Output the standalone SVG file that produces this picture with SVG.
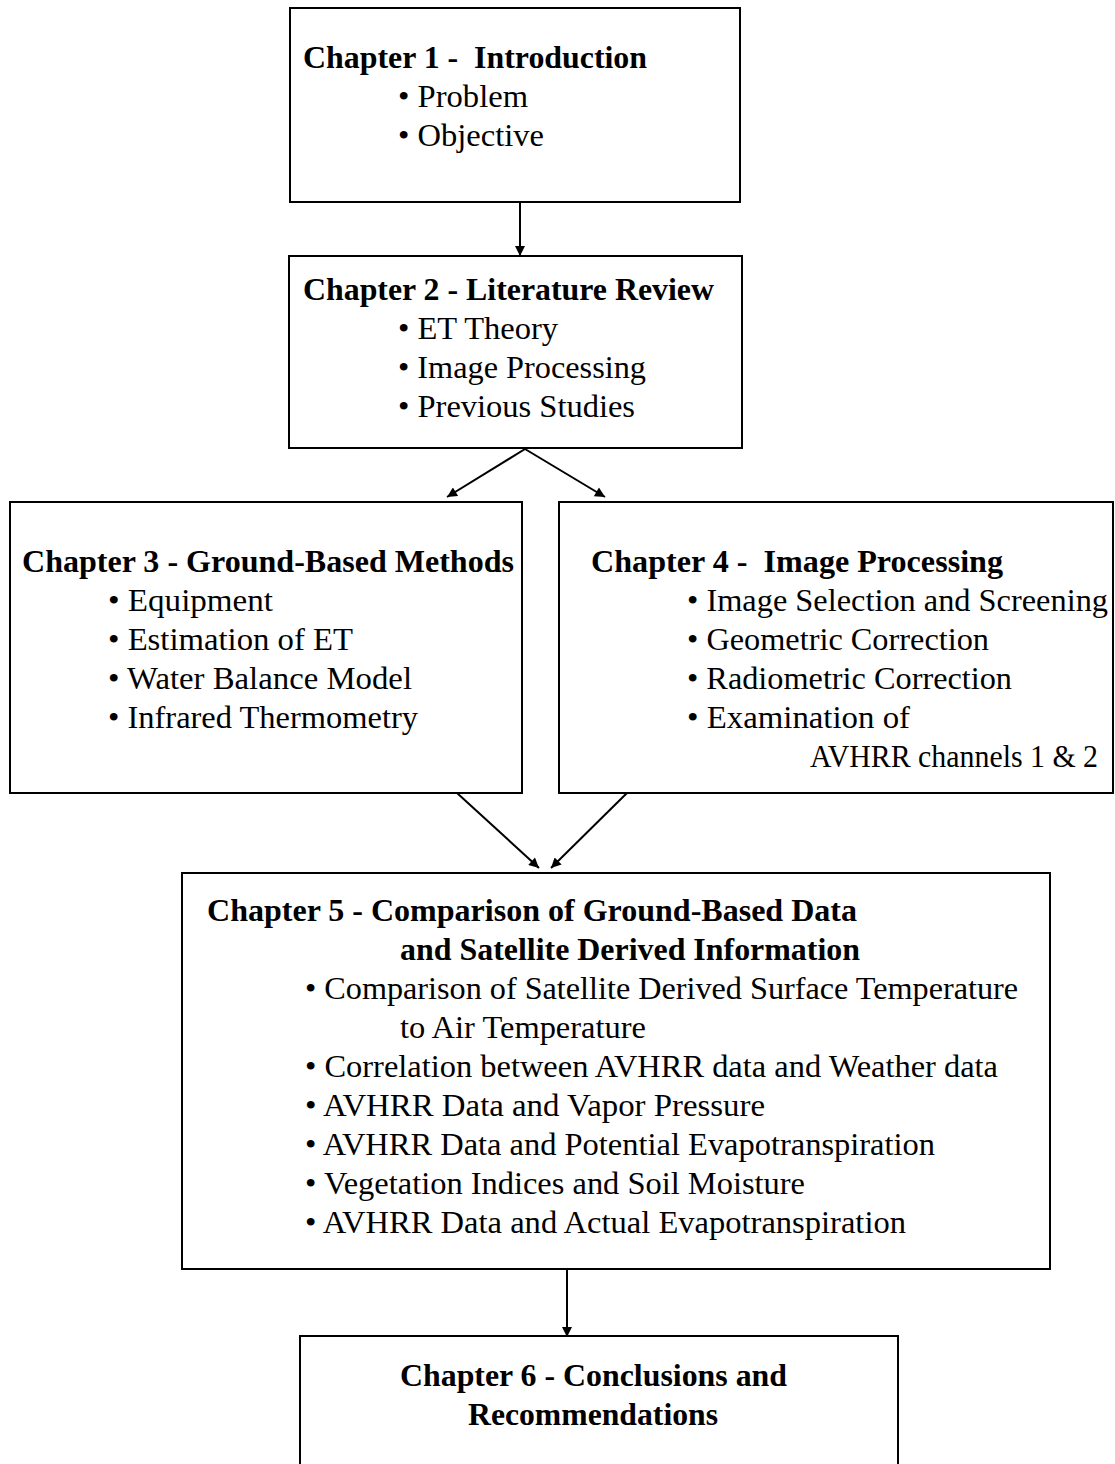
<svg xmlns="http://www.w3.org/2000/svg" width="1115" height="1464" viewBox="0 0 1115 1464">
<style>
.box{fill:#fff;stroke:#000;stroke-width:2}
.t{font-family:'Liberation Serif','Times New Roman',Times,serif;font-size:32.5px;fill:#000}
.b{font-weight:bold;font-size:32px}
.c{stroke:#000;stroke-width:2;fill:none}
</style>
<defs>
<marker id="ah" viewBox="0 0 10 10" refX="10" refY="5" markerWidth="12" markerHeight="10" markerUnits="userSpaceOnUse" orient="auto">
<path d="M0,0 L10,5 L0,10 z" fill="#000"/>
</marker>
</defs>
<rect width="1115" height="1464" fill="#fff"/>
<g id="connectors">
<line class="c" x1="520" y1="202" x2="520" y2="256" marker-end="url(#ah)"/>
<line class="c" x1="525" y1="449" x2="447" y2="497" marker-end="url(#ah)"/>
<line class="c" x1="525" y1="449" x2="605" y2="497" marker-end="url(#ah)"/>
<line class="c" x1="457" y1="793" x2="539" y2="868" marker-end="url(#ah)"/>
<line class="c" x1="627" y1="793" x2="551" y2="868" marker-end="url(#ah)"/>
<line class="c" x1="567" y1="1269" x2="567" y2="1337" marker-end="url(#ah)"/>
</g>
<g id="ch1">
<rect class="box" x="290" y="8" width="450" height="194"/>
<text class="t b" x="303" y="68" textLength="344" lengthAdjust="spacingAndGlyphs" xml:space="preserve">Chapter 1 -  Introduction</text>
<text class="t" x="398" y="107" textLength="130" lengthAdjust="spacingAndGlyphs">• Problem</text>
<text class="t" x="398" y="146" textLength="146" lengthAdjust="spacingAndGlyphs">• Objective</text>
</g>
<g id="ch2">
<rect class="box" x="289" y="256" width="453" height="192"/>
<text class="t b" x="303" y="300" textLength="411" lengthAdjust="spacingAndGlyphs">Chapter 2 - Literature Review</text>
<text class="t" x="398" y="339" textLength="160" lengthAdjust="spacingAndGlyphs">• ET Theory</text>
<text class="t" x="398" y="378" textLength="248" lengthAdjust="spacingAndGlyphs">• Image Processing</text>
<text class="t" x="398" y="417" textLength="237" lengthAdjust="spacingAndGlyphs">• Previous Studies</text>
</g>
<g id="ch3">
<rect class="box" x="10" y="502" width="512" height="291"/>
<text class="t b" x="22" y="572" textLength="492" lengthAdjust="spacingAndGlyphs">Chapter 3 - Ground-Based Methods</text>
<text class="t" x="108" y="611" textLength="165" lengthAdjust="spacingAndGlyphs">• Equipment</text>
<text class="t" x="108" y="650" textLength="245" lengthAdjust="spacingAndGlyphs">• Estimation of ET</text>
<text class="t" x="108" y="689" textLength="304" lengthAdjust="spacingAndGlyphs">• Water Balance Model</text>
<text class="t" x="108" y="728" textLength="310" lengthAdjust="spacingAndGlyphs">• Infrared Thermometry</text>
</g>
<g id="ch4">
<rect class="box" x="559" y="502" width="554" height="291"/>
<text class="t b" x="591" y="572" textLength="412" lengthAdjust="spacingAndGlyphs" xml:space="preserve">Chapter 4 -  Image Processing</text>
<text class="t" x="687" y="611" textLength="421" lengthAdjust="spacingAndGlyphs">• Image Selection and Screening</text>
<text class="t" x="687" y="650" textLength="302" lengthAdjust="spacingAndGlyphs">• Geometric Correction</text>
<text class="t" x="687" y="689" textLength="325" lengthAdjust="spacingAndGlyphs">• Radiometric Correction</text>
<text class="t" x="687" y="728" textLength="223" lengthAdjust="spacingAndGlyphs">• Examination of</text>
<text class="t" x="810" y="767" textLength="288" lengthAdjust="spacingAndGlyphs">AVHRR channels 1 &amp; 2</text>
</g>
<g id="ch5">
<rect class="box" x="182" y="873" width="868" height="396"/>
<text class="t b" x="207" y="921" textLength="650" lengthAdjust="spacingAndGlyphs">Chapter 5 - Comparison of Ground-Based Data</text>
<text class="t b" x="400" y="960" textLength="460" lengthAdjust="spacingAndGlyphs">and Satellite Derived Information</text>
<text class="t" x="305" y="999" textLength="713" lengthAdjust="spacingAndGlyphs">• Comparison of Satellite Derived Surface Temperature</text>
<text class="t" x="400" y="1038" textLength="246" lengthAdjust="spacingAndGlyphs">to Air Temperature</text>
<text class="t" x="305" y="1077" textLength="693" lengthAdjust="spacingAndGlyphs">• Correlation between AVHRR data and Weather data</text>
<text class="t" x="305" y="1116" textLength="460" lengthAdjust="spacingAndGlyphs">• AVHRR Data and Vapor Pressure</text>
<text class="t" x="305" y="1155" textLength="630" lengthAdjust="spacingAndGlyphs">• AVHRR Data and Potential Evapotranspiration</text>
<text class="t" x="305" y="1194" textLength="500" lengthAdjust="spacingAndGlyphs">• Vegetation Indices and Soil Moisture</text>
<text class="t" x="305" y="1233" textLength="601" lengthAdjust="spacingAndGlyphs">• AVHRR Data and Actual Evapotranspiration</text>
</g>
<g id="ch6">
<rect class="box" x="300" y="1336" width="598" height="140"/>
<text class="t b" x="400" y="1386" textLength="387" lengthAdjust="spacingAndGlyphs">Chapter 6 - Conclusions and</text>
<text class="t b" x="468" y="1425" textLength="250" lengthAdjust="spacingAndGlyphs">Recommendations</text>
</g>
</svg>
